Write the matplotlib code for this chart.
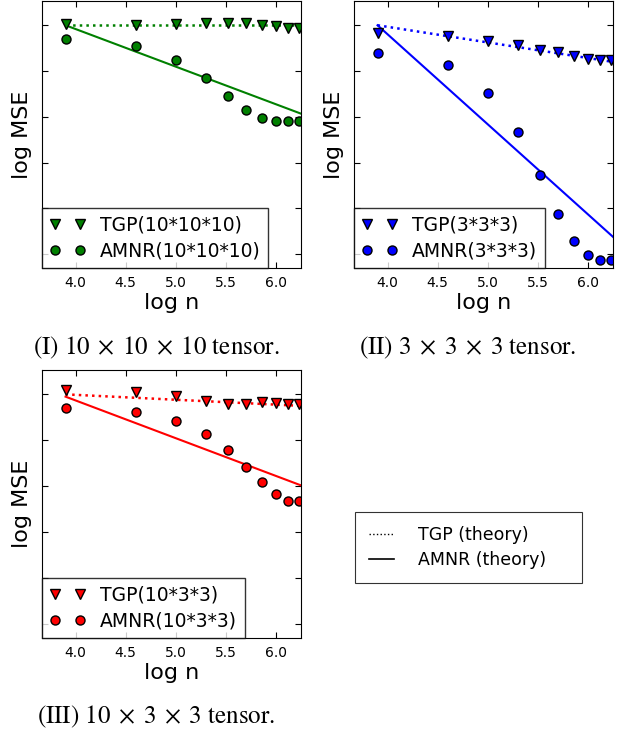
import matplotlib
matplotlib.use('Agg')
import matplotlib.pyplot as plt
from matplotlib.lines import Line2D

plt.rcParams['mathtext.fontset'] = 'stix'

# x values (log n) shared by all three panels
log_n = [3.9, 4.6, 5.0, 5.3, 5.52, 5.7, 5.86, 6.0, 6.12, 6.23]
theory_x = [3.9, 6.25]
x_ticks = [4.0, 4.5, 5.0, 5.5, 6.0]

# (I) 10x10x10
tgp_I = [0.02, 0.01, 0.02, 0.04, 0.04, 0.04, 0.0, -0.01, -0.05, -0.07]
amnr_I = [-0.30, -0.45, -0.75, -1.15, -1.55, -1.86, -2.03, -2.09, -2.09, -2.09]
tgp_theory_I = [0.0, 0.0]
amnr_theory_I = [0.0, -1.93]

# (II) 3x3x3
tgp_II = [-0.17, -0.23, -0.34, -0.43, -0.53, -0.59, -0.68, -0.73, -0.75, -0.75]
amnr_II = [-0.61, -0.86, -1.47, -2.32, -3.26, -4.12, -4.71, -5.02, -5.12, -5.12]
tgp_theory_II = [0.0, -0.80]
amnr_theory_II = [0.0, -4.62]

# (III) 10x3x3
tgp_III = [0.09, 0.06, -0.03, -0.14, -0.20, -0.20, -0.17, -0.18, -0.22, -0.22]
amnr_III = [-0.30, -0.38, -0.57, -0.86, -1.21, -1.57, -1.91, -2.16, -2.31, -2.31]
tgp_theory_III = [0.0, -0.25]
amnr_theory_III = [-0.05, -1.98]

y_ticks = [0, -1, -2, -3, -4, -5]

panels = [
    # rect, color, size label, tgp, amnr, tgp theory, amnr theory, caption, caption pos
    ([42/622, 1 - 268/736, 259/622, 267/736], 'g', '10*10*10',
     tgp_I, amnr_I, tgp_theory_I, amnr_theory_I,
     r'(I) $10 \;\times\; 10 \;\times\; 10$ tensor.', (156/622, 1 - 348/736)),
    ([354/622, 1 - 268/736, 259/622, 267/736], 'b', '3*3*3',
     tgp_II, amnr_II, tgp_theory_II, amnr_theory_II,
     r'(II) $3 \;\times\; 3 \;\times\; 3$ tensor.', (468/622, 1 - 348/736)),
    ([42/622, 1 - 638/736, 259/622, 268/736], 'r', '10*3*3',
     tgp_III, amnr_III, tgp_theory_III, amnr_theory_III,
     r'(III) $10 \;\times\; 3 \;\times\; 3$ tensor.', (156/622, 1 - 717/736)),
]

fig = plt.figure(figsize=(6.22, 7.36), dpi=100)

for rect, color, size, tgp, amnr, tgp_th, amnr_th, caption, cpos in panels:
    ax = fig.add_axes(rect)
    ax.plot(theory_x, tgp_th, ':', color=color, linewidth=1.8)
    ax.plot(theory_x, amnr_th, '-', color=color, linewidth=1.5)
    ax.plot(log_n, tgp, 'v', color=color, markeredgecolor='k',
            markersize=6.5, label='TGP(%s)' % size)
    ax.plot(log_n, amnr, 'o', color=color, markeredgecolor='k',
            markersize=6.5, label='AMNR(%s)' % size)
    ax.set_xlim(3.665, 6.25)
    ax.set_ylim(-5.3, 0.53)
    ax.set_xticks(x_ticks)
    ax.set_yticks(y_ticks)
    ax.set_yticklabels([])
    ax.tick_params(direction='in', top=True, right=True, length=4,
                   labelsize=10, pad=6)
    ax.set_xlabel('log n', fontsize=16, labelpad=2)
    ax.set_ylabel('log MSE', fontsize=16, labelpad=1)
    leg = ax.legend(loc='lower left', numpoints=2, fontsize=13.5,
                    borderaxespad=0, fancybox=False, handlelength=1.95,
                    handletextpad=0.75, labelspacing=0.35, borderpad=0.4)
    leg.get_frame().set_edgecolor('k')
    leg.get_frame().set_linewidth(1.0)
    fig.text(cpos[0], cpos[1], caption, ha='center', va='center',
             fontsize=18, family='STIXGeneral')

handles = [Line2D([], [], color='k', linestyle=':', linewidth=1.0),
           Line2D([], [], color='k', linestyle='-', linewidth=1.2)]
leg = fig.legend(handles, ['TGP (theory)', 'AMNR (theory)'],
                 loc='upper left',
                 bbox_to_anchor=(355/622, 1 - 582/736, 227/622, 70/736),
                 mode='expand', fontsize=12.5, fancybox=False,
                 handlelength=1.45, handletextpad=1.4, borderpad=0.8,
                 labelspacing=0.4, borderaxespad=0)
leg.get_frame().set_edgecolor('k')
leg.get_frame().set_linewidth(0.8)

fig.savefig('out.png', dpi=100)
